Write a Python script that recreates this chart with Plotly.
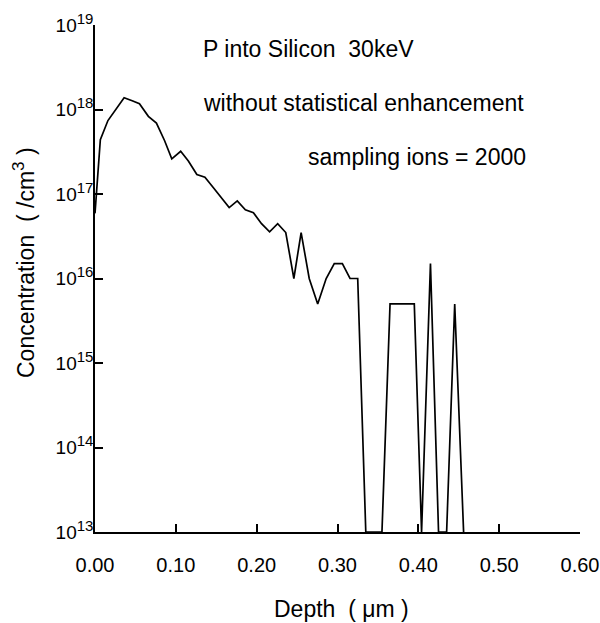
import plotly.graph_objects as go

# Implanted phosphorus profile in silicon (depth in um, concentration in /cm^3)
depth_um = [
    0.000, 0.0066, 0.016, 0.026, 0.036, 0.046, 0.055, 0.066, 0.076, 0.086,
    0.095, 0.106, 0.1155, 0.126, 0.136, 0.146, 0.156, 0.166, 0.176, 0.186,
    0.196, 0.206, 0.216, 0.226, 0.236, 0.246, 0.255, 0.265, 0.2755, 0.286,
    0.296, 0.306, 0.3155, 0.325, 0.335, 0.345, 0.355, 0.365, 0.375, 0.385,
    0.395, 0.404, 0.415, 0.425, 0.435, 0.445, 0.456,
]
concentration = [
    5.9e16, 4.4e17, 7.4e17, 1.02e18, 1.38e18, 1.27e18, 1.17e18, 8.3e17, 6.9e17, 4.3e17,
    2.6e17, 3.2e17, 2.46e17, 1.7e17, 1.58e17, 1.2e17, 9.1e16, 6.9e16, 8.3e16, 6.5e16,
    6.0e16, 4.45e16, 3.57e16, 4.45e16, 3.5e16, 1.0e16, 3.5e16, 1.0e16, 5.0e15, 1.0e16,
    1.5e16, 1.5e16, 1.0e16, 1.0e16, 1e13, 1e13, 1e13, 5e15, 5e15, 5e15,
    5e15, 1e13, 1.5e16, 1e13, 1e13, 5e15, 1e13,
]

x_ticks = [0.0, 0.1, 0.2, 0.3, 0.4, 0.5, 0.6]
x_tick_labels = ["0.00", "0.10", "0.20", "0.30", "0.40", "0.50", "0.60"]
y_ticks = [1e13, 1e14, 1e15, 1e16, 1e17, 1e18, 1e19]
y_exponents = ["13", "14", "15", "16", "17", "18", "19"]
y_tick_labels = ["10<sup><span style='font-size:15px'>%s</span></sup>" % e for e in y_exponents]

notes = ["P into Silicon  30keV", "without statistical enhancement", "sampling ions = 2000"]
x_title = "Depth  ( \u03bcm )"
y_title = "Concentration  ( /cm<sup><span style='font-size:17px'>3</span></sup> )"

FONT = "Liberation Sans, Arial, sans-serif"

fig = go.Figure()
fig.add_trace(go.Scatter(
    x=depth_um, y=concentration, mode="lines",
    line=dict(color="black", width=1.7),
    showlegend=False, hoverinfo="skip",
))

W, H = 600, 623
ml, mr, mt, mb = 95, 20, 25, 91
pw, ph = W - ml - mr, H - mt - mb


def px_x(px):
    return (px - ml) / pw


def px_y(py):
    return (H - mb - py) / ph


note_pos = [(201, 49), (201, 103), (306, 157)]
for text, (nx, ny) in zip(notes, note_pos):
    fig.add_annotation(
        x=px_x(nx), y=px_y(ny), xref="paper", yref="paper",
        text=text, showarrow=False, xanchor="left", yanchor="middle",
        font=dict(family=FONT, size=23, color="black"),
    )

# axis titles
fig.add_annotation(
    x=px_x(341), y=px_y(609), xref="paper", yref="paper",
    text=x_title, showarrow=False, xanchor="center", yanchor="middle",
    font=dict(family=FONT, size=23, color="black"),
)
fig.add_annotation(
    x=px_x(24), y=px_y(263), xref="paper", yref="paper",
    text=y_title, showarrow=False, xanchor="center", yanchor="middle",
    textangle=-90, font=dict(family=FONT, size=23, color="black"),
)

fig.update_layout(
    width=W, height=H,
    margin=dict(l=ml, r=mr, t=mt, b=mb, autoexpand=False),
    paper_bgcolor="white", plot_bgcolor="white",
    font=dict(family=FONT, color="black"),
    xaxis=dict(
        range=[0, 0.6], tickvals=x_ticks, ticktext=x_tick_labels,
        ticks="inside", ticklen=8, tickwidth=1.5, tickcolor="black",
        showline=True, linecolor="black", linewidth=1.5,
        showgrid=False, zeroline=False, mirror=False, automargin=False,
        tickfont=dict(family=FONT, size=20), ticklabelstandoff=14,
    ),
    yaxis=dict(
        type="log", range=[13, 19], tickvals=y_ticks, ticktext=y_tick_labels,
        ticks="inside", ticklen=8, tickwidth=1.5, tickcolor="black",
        showline=True, linecolor="black", linewidth=1.5,
        showgrid=False, zeroline=False, mirror=False, automargin=False,
        tickfont=dict(family=FONT, size=19), ticklabelstandoff=-4,
    ),
)

fig.write_html("out.html")
